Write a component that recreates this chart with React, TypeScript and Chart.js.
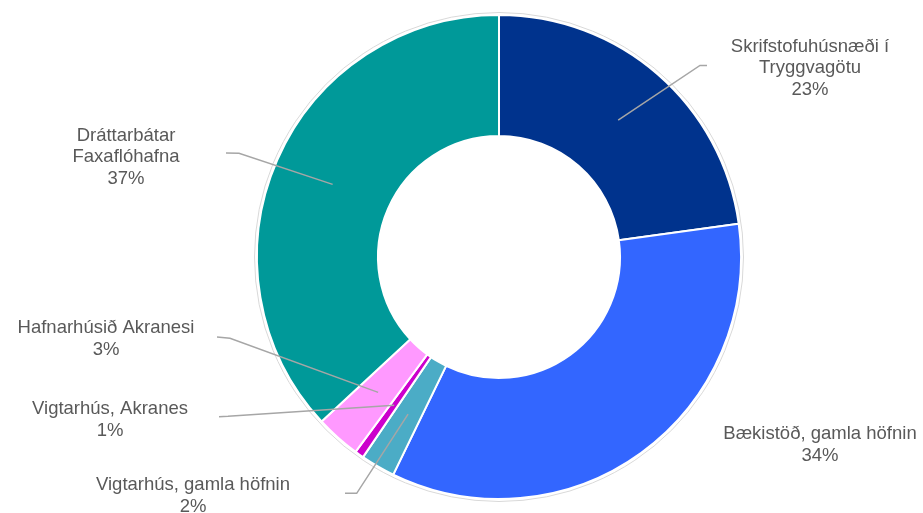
import React, { useEffect, useRef } from "react";
import { Chart, registerables } from "chart.js";

Chart.register(...registerables);

const categories = [
  "Skrifstofuhúsnæði í\nTryggvagötu",
  "Bækistöð, gamla höfnin",
  "Vigtarhús, gamla höfnin",
  "Vigtarhús, Akranes",
  "Hafnarhúsið Akranesi",
  "Dráttarbátar\nFaxaflóhafna",
];
const values = [22.8, 34.4, 2.3, 0.6, 3.0, 36.9];
const colors = ["#00338D", "#3366FF", "#4BACC6", "#CC00CC", "#FF99FF", "#009999"];

// label layout: text center x, first baseline y, leader elbow & end (null = no leader)
const labelX = [810, 820, 193, 110, 106, 126];
const labelY = [51.7, 439.3, 490, 414.3, 333.3, 140.7];
const leaderElbow: ([number, number] | null)[] = [[700, 65.5], null, [356.7, 493.3], [228, 416.3], [230, 338.3], [239, 153.3]];
const leaderEnd: ([number, number] | null)[] = [[707, 65.5], null, [345, 493.3], [219, 416.7], [217, 337], [226, 153]];

const labelPlugin = {
  id: "excelLabels",
  afterDatasetsDraw(chart: any) {
    const ctx = chart.ctx;
    const meta = chart.getDatasetMeta(0);
    const total = values.reduce((a, b) => a + b, 0);
    ctx.save();
    // outer faint outline
    const a0 = meta.data[0];
    ctx.beginPath();
    ctx.arc(a0.x, a0.y, a0.outerRadius + 2.5, 0, Math.PI * 2);
    ctx.strokeStyle = "#D9D9D9";
    ctx.lineWidth = 1;
    ctx.stroke();

    meta.data.forEach((arc: any, i: number) => {
      const mid = (arc.startAngle + arc.endAngle) / 2;
      const r = (arc.innerRadius + arc.outerRadius) / 2;
      const ax = arc.x + Math.cos(mid) * r;
      const ay = arc.y + Math.sin(mid) * r;
      const el = leaderElbow[i];
      const en = leaderEnd[i];
      if (el && en) {
        ctx.beginPath();
        ctx.moveTo(ax, ay);
        ctx.lineTo(el[0], el[1]);
        ctx.lineTo(en[0], en[1]);
        ctx.strokeStyle = "#A6A6A6";
        ctx.lineWidth = 1.5;
        ctx.stroke();
      }
      const lines = categories[i].split("\n");
      lines.push(Math.round((values[i] / total) * 100) + "%");
      ctx.fillStyle = "#595959";
      ctx.font = "18.5px 'Liberation Sans', Arial, sans-serif";
      ctx.textAlign = "center";
      ctx.textBaseline = "alphabetic";
      lines.forEach((t: string, k: number) => {
        ctx.fillText(t, labelX[i], labelY[i] + k * 21.5);
      });
    });
    ctx.restore();
  },
};

export default function App() {
  const ref = useRef<HTMLCanvasElement>(null);
  useEffect(() => {
    document.body.style.margin = "0";
    const chart = new Chart(ref.current!, {
      type: "doughnut",
      data: {
        labels: categories,
        datasets: [
          {
            data: values,
            backgroundColor: colors,
            borderColor: "#FFFFFF",
            borderWidth: 2,
          },
        ],
      },
      options: {
        animation: false,
        responsive: false,
        cutout: "50%",
        layout: { padding: { left: 220, right: 145, top: 14, bottom: 13 } },
        plugins: { legend: { display: false }, tooltip: { enabled: false } },
      },
      plugins: [labelPlugin],
    });
    return () => chart.destroy();
  }, []);
  return (
    <div style={{ position: "fixed", left: 0, top: 0, width: 923, height: 513, background: "#fff" }}>
      <canvas ref={ref} width={923} height={513} />
    </div>
  );
}
